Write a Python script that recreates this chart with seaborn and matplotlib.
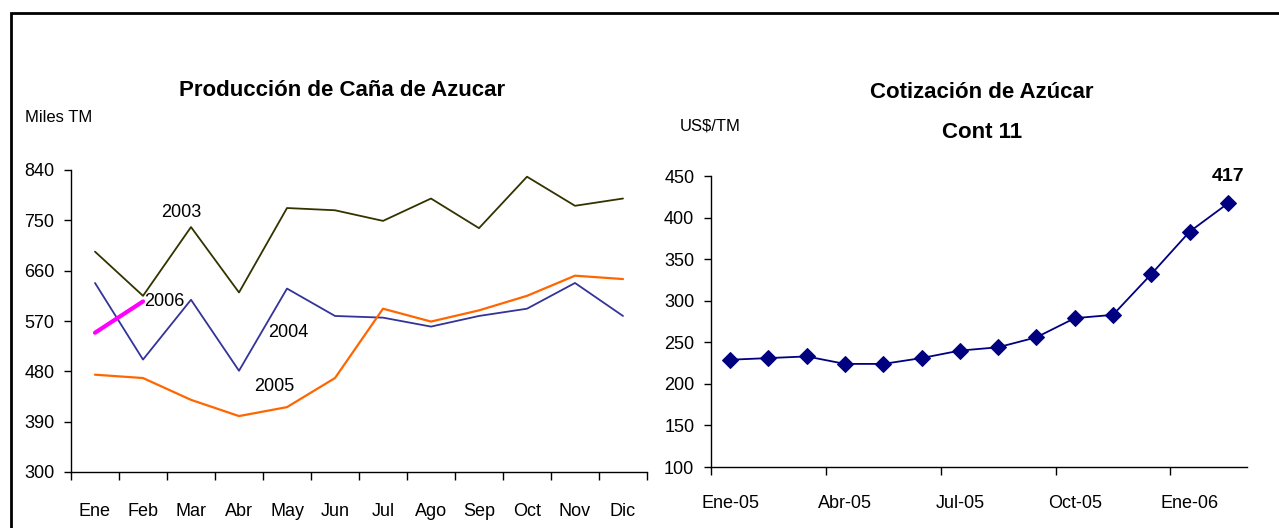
import seaborn as sns
import numpy as np
import pandas as pd
import matplotlib.pyplot as plt
from matplotlib.patches import Rectangle

# datos - produccion mensual (miles TM)
meses = ['Ene', 'Feb', 'Mar', 'Abr', 'May', 'Jun', 'Jul', 'Ago', 'Sep', 'Oct', 'Nov', 'Dic']
prod_2003 = [694, 615, 738, 621, 772, 768, 749, 789, 736, 828, 776, 789]
prod_2004 = [638, 501, 608, 481, 628, 579, 576, 560, 579, 592, 638, 579]
prod_2005 = [474, 468, 429, 400, 416, 468, 592, 569, 589, 615, 651, 645]
prod_2006 = [549, 605]

# cotizacion contrato 11 (US$/TM)
periodos = ['Ene-05', 'Feb-05', 'Mar-05', 'Abr-05', 'May-05', 'Jun-05', 'Jul-05',
            'Ago-05', 'Sep-05', 'Oct-05', 'Nov-05', 'Dic-05', 'Ene-06', 'Feb-06']
cotizacion = [229, 231, 233, 224, 224, 231, 240, 244, 256, 279, 283, 332, 383, 417]

sns.set_style("ticks")
plt.rcParams['font.family'] = ['Liberation Sans']
# texto en negro (seaborn usa gris oscuro)
plt.rcParams['text.color'] = 'black'
plt.rcParams['xtick.color'] = 'black'
plt.rcParams['ytick.color'] = 'black'
plt.rcParams['axes.labelcolor'] = 'black'

fig = plt.figure(figsize=(12.79, 5.28), dpi=100)
W, H = 1279, 528

def px_axes(x0, y0, x1, y1):
    return fig.add_axes([x0 / W, 1 - y1 / H, (x1 - x0) / W, (y1 - y0) / H])

# marco
fig.patches.append(Rectangle((11 / W, -0.1), 1.2, 1 - 13 / H + 0.1, transform=fig.transFigure,
                             fill=False, edgecolor='black', linewidth=2))

# ---- grafico izquierdo ----
ax1 = px_axes(71, 170, 647, 472)
x = np.arange(len(meses))
sns.lineplot(x=x, y=prod_2003, color='#333300', linewidth=1.3, ax=ax1)
sns.lineplot(x=x, y=prod_2004, color='#333399', linewidth=1.3, ax=ax1)
sns.lineplot(x=x, y=prod_2005, color='#FF6600', linewidth=1.6, ax=ax1)
sns.lineplot(x=np.arange(len(prod_2006)), y=prod_2006, color='#FF00FF', linewidth=3, ax=ax1)

ax1.set_xlim(-0.5, 11.5)
ax1.set_ylim(300, 840)
ax1.set_yticks(np.arange(300, 841, 90))
ax1.set_xticks(x)
ax1.set_xticklabels(meses)
ax1.set_xticks(np.arange(-0.5, 12, 1), minor=True)
ax1.tick_params(axis='x', which='major', length=0, pad=22, labelsize=13)
ax1.tick_params(axis='x', which='minor', length=6, width=1, direction='out')
ax1.tick_params(axis='y', length=5, width=1, pad=7, labelsize=13)
sns.despine(ax=ax1)
for s in ['left', 'bottom']:
    ax1.spines[s].set_color('black')
    ax1.spines[s].set_linewidth(1)

ax1.text(1.8, 764, '2003', fontsize=13, ha='center', va='center')
ax1.text(1.45, 605, '2006', fontsize=13, ha='center', va='center')
ax1.text(4.02, 550, '2004', fontsize=13, ha='center', va='center')
ax1.text(3.73, 452, '2005', fontsize=13, ha='center', va='center')

fig.text(342 / W, 1 - 90 / H, 'Producción de Caña de Azucar', fontsize=16, fontweight='bold',
         ha='center', va='center')
fig.text(25 / W, 1 - 118 / H, 'Miles TM', fontsize=12, ha='left', va='center')

# ---- grafico derecho ----
ax2 = px_axes(711, 176, 1247, 467)
xp = np.arange(len(periodos))
sns.lineplot(x=xp, y=cotizacion, color='#000080', linewidth=1.3, marker='D', markersize=8,
             markeredgecolor='#000080', ax=ax2)
ax2.set_xlim(-0.5, len(periodos) - 0.5)
ax2.set_ylim(100, 450)
ax2.set_yticks(np.arange(100, 451, 50))
ax2.set_xticks(xp[::3])
ax2.set_xticklabels(periodos[::3])
ax2.set_xticks([-0.5, 2.5, 5.5, 8.5, 11.5], minor=True)
ax2.tick_params(axis='x', which='major', length=0, pad=20, labelsize=13)
ax2.tick_params(axis='x', which='minor', length=6, width=1, direction='out')
ax2.tick_params(axis='y', length=5, width=1, pad=7, labelsize=13)
sns.despine(ax=ax2)
for s in ['left', 'bottom']:
    ax2.spines[s].set_color('black')
    ax2.spines[s].set_linewidth(1)

ax2.annotate(str(cotizacion[-1]), (xp[-1], cotizacion[-1]), xytext=(0, 27), textcoords='offset pixels',
             ha='center', va='center', fontsize=14, fontweight='bold')

fig.text(982 / W, 1 - 92 / H, 'Cotización de Azúcar', fontsize=16, fontweight='bold',
         ha='center', va='center')
fig.text(982 / W, 1 - 132 / H, 'Cont 11', fontsize=16, fontweight='bold', ha='center', va='center')
fig.text(680 / W, 1 - 126 / H, 'US$/TM', fontsize=12, ha='left', va='center')

fig.savefig('out.png', dpi=100)
